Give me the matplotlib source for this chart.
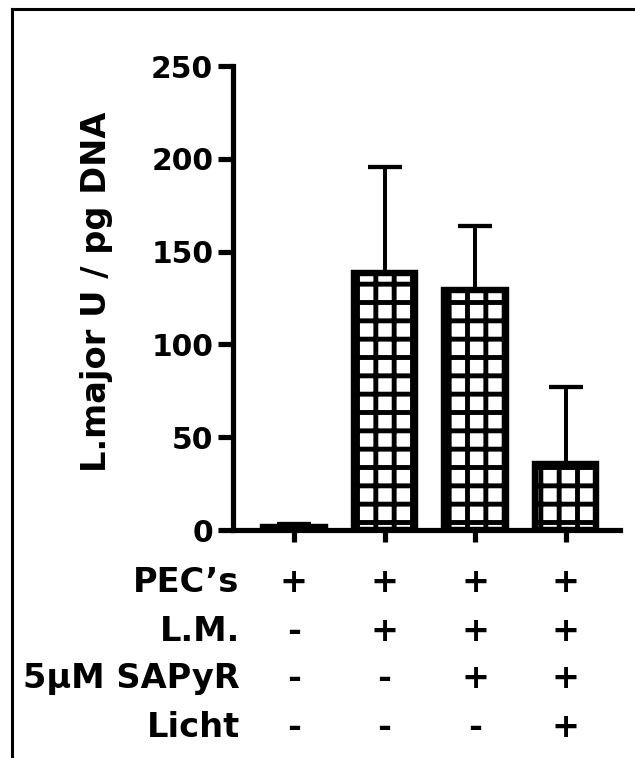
import matplotlib
matplotlib.use("Agg")
import matplotlib.pyplot as plt
from matplotlib.lines import Line2D
import numpy as np

# Measured parasite load per condition
conditions = ["PEC", "PEC+LM", "PEC+LM+SAPyR", "PEC+LM+SAPyR+Licht"]
means = [1.5, 138.5, 129.5, 35.5]
sd_upper = [1.5, 57.0, 34.5, 41.5]

# Treatment table under the bars
row_labels = ["PEC\u2019s", "L.M.", "5\u03bcM SAPyR", "Licht"]
row_marks = [
    ["+", "+", "+", "+"],
    ["-", "+", "+", "+"],
    ["-", "-", "+", "+"],
    ["-", "-", "-", "+"],
]
y_ticks = [0, 50, 100, 150, 200, 250]

DPI = 110
W, H = 635, 758
plt.rcParams["font.family"] = ["DejaVu Sans"]
plt.rcParams["font.weight"] = "bold"
plt.rcParams["hatch.linewidth"] = 3.2
plt.rcParams["hatch.color"] = "black"

fig = plt.figure(figsize=(W / DPI, H / DPI), dpi=DPI)
ax = fig.add_axes([233 / W, 1 - 530 / H, (620 - 233) / W, (530 - 66) / H])

x = np.arange(len(conditions))
ax.errorbar(x, means, yerr=[np.zeros(len(means)), sd_upper], fmt="none",
            ecolor="black", elinewidth=2.6, capsize=11, capthick=2.8, zorder=2)
ax.bar(x, means, width=0.68, facecolor="white", edgecolor="black",
       linewidth=4.2, hatch="+", zorder=3)

ax.set_xlim(-0.674, 3.6)
ax.set_ylim(0, 250)
ax.set_yticks(y_ticks)
ax.set_xticks(x)
ax.set_xticklabels([])
for s in ["top", "right"]:
    ax.spines[s].set_visible(False)
for s in ["left", "bottom"]:
    ax.spines[s].set_linewidth(3.4)
    ax.spines[s].set_zorder(4)
ax.tick_params(axis="y", length=10, width=3.4, pad=3, labelsize=19.5)
ax.tick_params(axis="x", length=8, width=3.4)
for lab in ax.get_yticklabels():
    lab.set_fontweight("bold")

ax.set_ylabel("L.major U / pg DNA", fontsize=22, fontweight="bold")
ax.yaxis.set_label_coords(-0.31, 0.514)

row_y = [-0.114, -0.218, -0.321, -0.425]
trans = ax.get_xaxis_transform()
for ry, label, marks in zip(row_y, row_labels, row_marks):
    ax.text(-0.6, ry, label, transform=trans, ha="right", va="center",
            fontsize=22, fontweight="bold", clip_on=False)
    for xi, m in zip(x, marks):
        ax.text(xi, ry, m, transform=trans, ha="center", va="center",
                fontsize=22, fontweight="bold", clip_on=False)

# Frame lines along the left and top edges
fig.add_artist(Line2D([12 / W, 12 / W], [0, 1 - 9 / H], transform=fig.transFigure,
                      color="black", linewidth=2.0))
fig.add_artist(Line2D([12 / W, 1], [1 - 9 / H, 1 - 9 / H], transform=fig.transFigure,
                      color="black", linewidth=2.0))

fig.savefig("out.png", dpi=DPI, facecolor="white")
